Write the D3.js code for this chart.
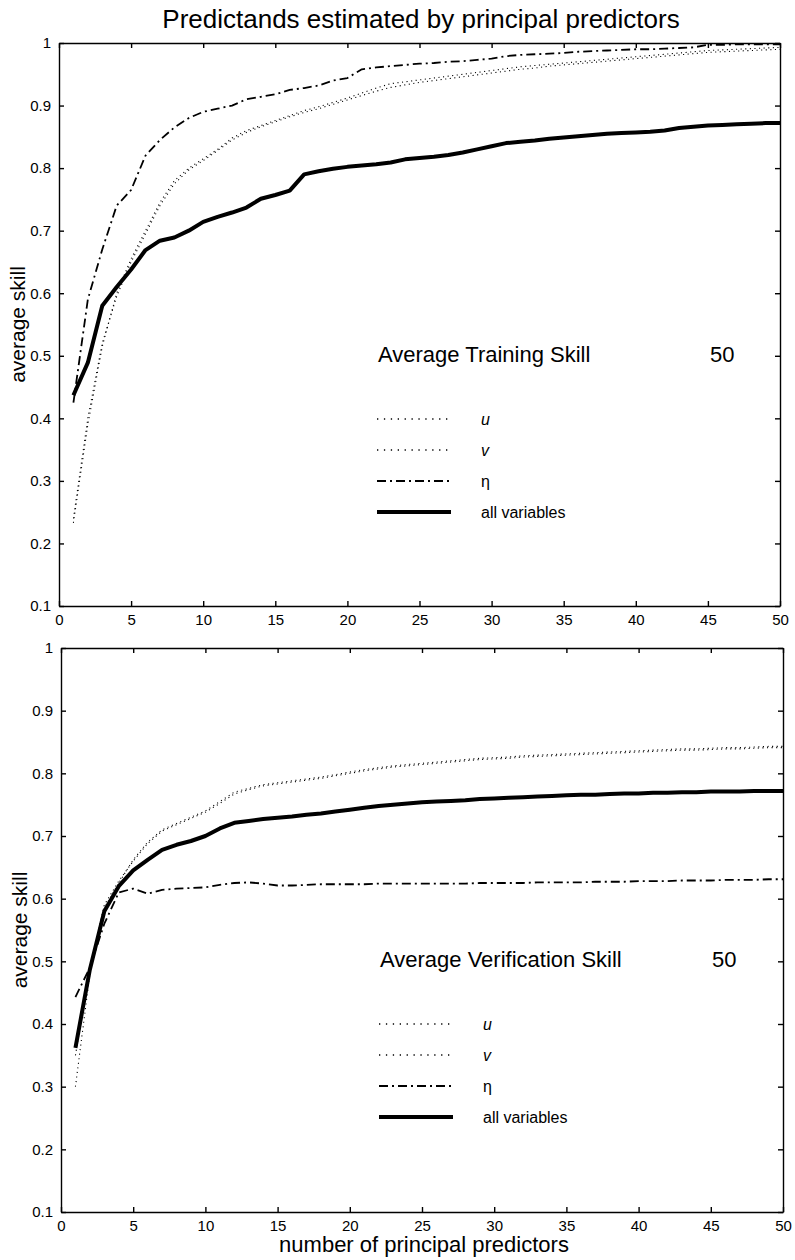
<!DOCTYPE html>
<html>
<head>
<meta charset="utf-8">
<script src="https://cdn.jsdelivr.net/npm/d3@7"></script>
<style>
  body { margin: 0; background: #fff; }
  svg { display: block; font-family: "Liberation Sans", Arial, Helvetica, sans-serif; }
  .axis path, .axis line { stroke: #000; stroke-width: 1.4; }
  .axis text { font-size: 15px; fill: #000; font-family: "Liberation Sans", Arial, sans-serif; }
</style>
</head>
<body>
<div id="chart"></div>
<script>
// number of principal predictors (x)
const nPredictors = d3.range(1, 51);

// Training skill (top panel)
const trainU = [0.233, 0.39, 0.515, 0.60, 0.655, 0.70, 0.745, 0.78, 0.80, 0.815,
  0.83, 0.848, 0.86, 0.868, 0.876, 0.884, 0.892, 0.898, 0.905, 0.912,
  0.92, 0.928, 0.935, 0.938, 0.941, 0.944, 0.947, 0.95, 0.953, 0.956,
  0.959, 0.962, 0.964, 0.966, 0.968, 0.970, 0.972, 0.974, 0.976, 0.978,
  0.980, 0.982, 0.984, 0.986, 0.988, 0.989, 0.990, 0.991, 0.992, 0.993];
const trainV = [0.24, 0.40, 0.52, 0.595, 0.65, 0.695, 0.74, 0.775, 0.797, 0.812,
  0.828, 0.845, 0.857, 0.866, 0.874, 0.882, 0.889, 0.895, 0.902, 0.909,
  0.916, 0.923, 0.929, 0.933, 0.937, 0.940, 0.943, 0.946, 0.949, 0.952,
  0.955, 0.958, 0.960, 0.963, 0.965, 0.967, 0.969, 0.971, 0.973, 0.975,
  0.977, 0.979, 0.981, 0.983, 0.985, 0.986, 0.987, 0.988, 0.989, 0.990];
const trainEta = [0.425, 0.59, 0.67, 0.74, 0.765, 0.82, 0.845, 0.865, 0.88, 0.89,
  0.895, 0.90, 0.91, 0.914, 0.918, 0.925, 0.928, 0.932, 0.94, 0.944,
  0.958, 0.961, 0.963, 0.965, 0.967, 0.968, 0.970, 0.971, 0.973, 0.975,
  0.979, 0.981, 0.982, 0.983, 0.984, 0.986, 0.987, 0.988, 0.989, 0.990,
  0.990, 0.991, 0.992, 0.993, 0.997, 0.997, 0.998, 0.998, 0.998, 0.998];
const trainAll = [0.437, 0.489, 0.58, 0.61, 0.638, 0.669, 0.684, 0.689, 0.70, 0.714,
  0.722, 0.729, 0.737, 0.751, 0.757, 0.764, 0.79, 0.795, 0.799, 0.802,
  0.804, 0.806, 0.809, 0.814, 0.816, 0.818, 0.821, 0.825, 0.830, 0.835,
  0.840, 0.842, 0.844, 0.847, 0.849, 0.851, 0.853, 0.855, 0.856, 0.857,
  0.858, 0.860, 0.864, 0.866, 0.868, 0.869, 0.870, 0.871, 0.872, 0.872];

// Verification skill (bottom panel)
const verifU = [0.30, 0.48, 0.585, 0.625, 0.662, 0.69, 0.71, 0.72, 0.73, 0.74,
  0.755, 0.77, 0.776, 0.782, 0.785, 0.788, 0.791, 0.794, 0.798, 0.802,
  0.806, 0.809, 0.812, 0.814, 0.816, 0.818, 0.820, 0.822, 0.824, 0.825,
  0.826, 0.828, 0.829, 0.830, 0.831, 0.832, 0.833, 0.834, 0.835, 0.836,
  0.837, 0.838, 0.839, 0.839, 0.840, 0.841, 0.841, 0.842, 0.843, 0.843];
const verifV = [0.35, 0.49, 0.59, 0.628, 0.66, 0.688, 0.708, 0.718, 0.728, 0.738,
  0.752, 0.767, 0.774, 0.78, 0.783, 0.786, 0.789, 0.792, 0.796, 0.800,
  0.804, 0.807, 0.810, 0.812, 0.814, 0.816, 0.818, 0.820, 0.822, 0.823,
  0.824, 0.826, 0.827, 0.828, 0.829, 0.830, 0.831, 0.832, 0.833, 0.834,
  0.835, 0.836, 0.837, 0.837, 0.838, 0.839, 0.839, 0.840, 0.841, 0.841];
const verifEta = [0.443, 0.49, 0.56, 0.61, 0.616, 0.608, 0.614, 0.616, 0.617, 0.618,
  0.622, 0.625, 0.626, 0.624, 0.621, 0.621, 0.622, 0.623, 0.623, 0.623,
  0.623, 0.624, 0.624, 0.624, 0.624, 0.624, 0.624, 0.624, 0.625, 0.625,
  0.625, 0.625, 0.626, 0.626, 0.626, 0.626, 0.627, 0.627, 0.627, 0.628,
  0.628, 0.628, 0.629, 0.629, 0.629, 0.630, 0.630, 0.630, 0.631, 0.631];
const verifAll = [0.362, 0.487, 0.58, 0.62, 0.645, 0.662, 0.678, 0.686, 0.692, 0.70,
  0.712, 0.721, 0.724, 0.727, 0.729, 0.731, 0.734, 0.736, 0.739, 0.742,
  0.745, 0.748, 0.750, 0.752, 0.754, 0.755, 0.756, 0.757, 0.759, 0.760,
  0.761, 0.762, 0.763, 0.764, 0.765, 0.766, 0.766, 0.767, 0.768, 0.768,
  0.769, 0.769, 0.770, 0.770, 0.771, 0.771, 0.771, 0.772, 0.772, 0.772];

// axis ticks
const xTicks = [0, 5, 10, 15, 20, 25, 30, 35, 40, 45, 50];
const yTicks = [0.1, 0.2, 0.3, 0.4, 0.5, 0.6, 0.7, 0.8, 0.9, 1];

const legendLabels = ["u", "v", "\u03b7", "all variables"];

// line styles per series: u, v, eta, all
const STYLES = [
  {width: 1.1, dash: "1.1,3.5", italic: true},
  {width: 1.1, dash: "1.1,3.5", italic: true},
  {width: 1.8, dash: "9,4,2,4", italic: false},
  {width: 4, dash: null, italic: false}
];

const W = 795, H = 1260;

const svg = d3.select("#chart").append("svg")
  .attr("width", W)
  .attr("height", H);

svg.append("rect").attr("width", W).attr("height", H).attr("fill", "#fff");

svg.append("text")
  .attr("x", 421)
  .attr("y", 28)
  .attr("text-anchor", "middle")
  .attr("font-size", 26)
  .text("Predictands estimated by principal predictors");

function drawPanel(box, heading, series) {
  const x = d3.scaleLinear().domain([0, 50]).range([box.left, box.right]);
  const y = d3.scaleLinear().domain([0.1, 1]).range([box.bottom, box.top]);
  const g = svg.append("g");

  const fmt = d => (d === 1 ? "1" : d3.format(".1f")(d));

  g.append("g").attr("class", "axis")
    .attr("transform", `translate(0,${box.bottom})`)
    .call(d3.axisBottom(x).tickValues(xTicks).tickSizeInner(-5).tickSizeOuter(0).tickPadding(8))
    .call(a => a.selectAll(".tick text").attr("dy", "0.75em"));
  g.append("g").attr("class", "axis")
    .attr("transform", `translate(0,${box.top})`)
    .call(d3.axisTop(x).tickValues(xTicks).tickSizeInner(-5).tickSizeOuter(0).tickFormat(""));
  g.append("g").attr("class", "axis")
    .attr("transform", `translate(${box.left},0)`)
    .call(d3.axisLeft(y).tickValues(yTicks).tickSizeInner(-5).tickSizeOuter(0).tickPadding(8).tickFormat(fmt));
  g.append("g").attr("class", "axis")
    .attr("transform", `translate(${box.right},0)`)
    .call(d3.axisRight(y).tickValues(yTicks).tickSizeInner(-5).tickSizeOuter(0).tickFormat(""));

  // y label
  g.append("text")
    .attr("transform", `translate(${box.left - 34},${(box.top + box.bottom) / 2}) rotate(-90)`)
    .attr("text-anchor", "middle")
    .attr("font-size", 21)
    .text("average skill");

  const line = d3.line()
    .x((d, i) => x(nPredictors[i]))
    .y(d => y(d));

  series.forEach((vals, k) => {
    const s = STYLES[k];
    g.append("path")
      .attr("d", line(vals))
      .attr("fill", "none")
      .attr("stroke", "#000")
      .attr("stroke-width", s.width)
      .attr("stroke-linejoin", "round")
      .attr("stroke-dasharray", s.dash);
  });

  // legend
  const lx = box.left + 319;
  g.append("text")
    .attr("x", lx)
    .attr("y", box.top + 319)
    .attr("font-size", 22)
    .text(heading);
  g.append("text")
    .attr("x", box.left + 651)
    .attr("y", box.top + 319)
    .attr("font-size", 22)
    .text("50");

  legendLabels.forEach((lab, k) => {
    const s = STYLES[k];
    const ly = box.top + 376 + k * 31;
    g.append("line")
      .attr("x1", lx - 1).attr("x2", lx + 73)
      .attr("y1", ly).attr("y2", ly)
      .attr("stroke", "#000")
      .attr("stroke-width", k === 3 ? 4 : (k === 2 ? 2 : 1.3))
      .attr("stroke-dasharray", k < 2 ? "1.3,5.6" : s.dash);
    g.append("text")
      .attr("x", lx + 103)
      .attr("y", ly + 6)
      .attr("font-size", 16)
      .attr("font-style", s.italic ? "italic" : "normal")
      .text(lab);
  });
  return {x, y};
}

drawPanel({left: 59, right: 780, top: 43, bottom: 606},
  "Average Training Skill", [trainU, trainV, trainEta, trainAll]);
drawPanel({left: 61, right: 783, top: 648, bottom: 1212},
  "Average Verification Skill", [verifU, verifV, verifEta, verifAll]);

svg.append("text")
  .attr("x", 424)
  .attr("y", 1252)
  .attr("text-anchor", "middle")
  .attr("font-size", 22)
  .text("number of principal predictors");
</script>
</body>
</html>
